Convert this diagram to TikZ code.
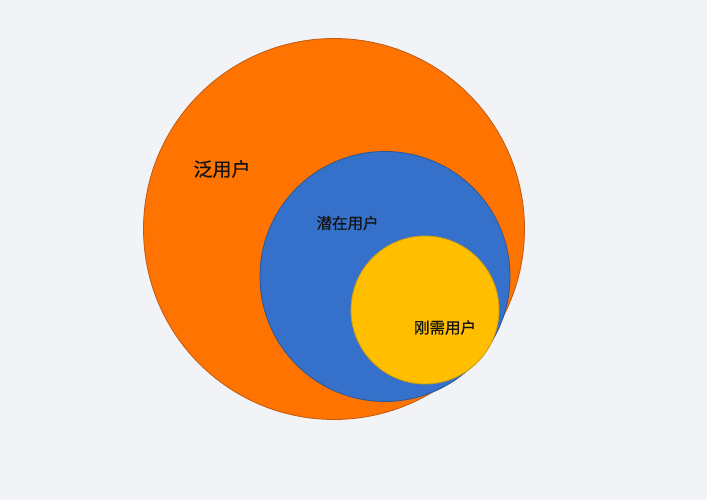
\documentclass[tikz,border=0pt]{standalone}
\usepackage{fontspec}
\newfontfamily\cjk[FakeBold=0.6]{Noto Sans CJK SC}
\definecolor{bgc}{HTML}{F1F3F7}
\definecolor{outerfill}{HTML}{FF7400}
\definecolor{outerline}{HTML}{C05A14}
\definecolor{midfill}{HTML}{3571CA}
\definecolor{midline}{HTML}{2C5794}
\definecolor{innerfill}{HTML}{FFBF00}
\definecolor{innerline}{HTML}{C99A10}
\definecolor{txt}{HTML}{141414}

\tikzset{
  ring/.style={line width=0.8pt},
  lbl/.style={text=txt, inner sep=0pt}
}

\begin{document}
\begin{tikzpicture}[x=1pt,y=1pt]

  \useasboundingbox[fill=bgc] (0,0) rectangle (707,500);

  \coordinate (c0) at (334,271); % outer centre
  \coordinate (c1) at (385,223.5); % middle centre
  \coordinate (c2) at (425,190); % inner centre

  % outer circle
  \draw[ring, draw=outerline, fill=outerfill] (c0) circle (190.5);
  % middle circle
  \draw[ring, draw=midline, fill=midfill] (c1) circle (125);
  % inner circle
  \draw[ring, draw=innerline, fill=innerfill] (c2) circle (74);

  \node[lbl, font=\cjk\fontsize{19}{19}\selectfont] (fan) at (222,331) {泛用户};
  \node[lbl, font=\cjk\fontsize{15.5}{15.5}\selectfont] (qian) at (347.5,277) {潜在用户};
  \node[lbl, font=\cjk\fontsize{15.5}{15.5}\selectfont] (gang) at (445,172.5) {刚需用户};
\end{tikzpicture}
\end{document}
